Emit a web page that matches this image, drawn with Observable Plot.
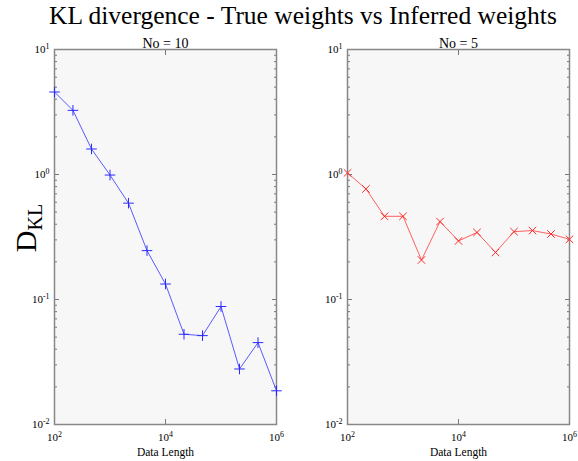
<!DOCTYPE html>
<html>
<head>
<meta charset="utf-8">
<script src="https://cdn.jsdelivr.net/npm/d3@7"></script>
<script src="https://cdn.jsdelivr.net/npm/@observablehq/plot@0.6"></script>
<style>
  body { margin: 0; background: #fff; }
  #chart { position: relative; width: 578px; height: 461px; font-family: "Liberation Serif", "DejaVu Serif", serif; color: #000; }
  #title { position: absolute; left: 14px; top: 1px; width: 578px; text-align: center; font-family: "Liberation Serif", "DejaVu Serif", serif; font-size: 25.5px; white-space: nowrap; }
  #ylabel { position: absolute; left: 28px; top: 228px; transform: translate(-50%, -50%) rotate(-90deg); font-family: "Liberation Serif", "DejaVu Serif", serif; font-size: 30px; white-space: nowrap; line-height: 1; }
  #ylabel sub { font-size: 20px; vertical-align: -0.3em; }
  .panel { position: absolute; top: 30px; }
</style>
</head>
<body>
<div id="chart">
  <div id="title">KL divergence - True weights vs Inferred weights</div>
  <div id="ylabel">D<sub>KL</sub></div>
  <div class="panel" id="p1" style="left:0px"></div>
  <div class="panel" id="p2" style="left:290px"></div>
</div>
<script>
// Data lengths (log-spaced sample sizes)
const dataLength = [100, 215, 464, 1000, 2154, 4642, 10000, 21544, 46416, 100000, 215443, 464159, 1000000];
// KL divergence between true and inferred weights
const klNo10 = [4.57, 3.26, 1.60, 0.99, 0.59, 0.246, 0.133, 0.0527, 0.0514, 0.0879, 0.0278, 0.0452, 0.0186];
const klNo5 = [1.03, 0.767, 0.463, 0.463, 0.207, 0.42, 0.294, 0.344, 0.238, 0.349, 0.356, 0.334, 0.303];

const panelTitles = ["No = 10", "No = 5"];
const xLabel = "Data Length";
const xTicks = [1e2, 1e4, 1e6];
const yTicks = [1e-2, 1e-1, 1e0, 1e1];
const yMinor = [1e-2, 1e-1, 1e0].flatMap(d => [2, 3, 4, 5, 6, 7, 8, 9].map(m => m * d));

const exponent = d => String(Math.round(Math.log10(d)));
const pow10 = d => "10^" + exponent(d);
const blank = () => "";
const serif = "'Liberation Serif', 'DejaVu Serif', serif";

// turn "10^k" tick labels into a base with a raised exponent
function raiseExponents(svg) {
  svg.querySelectorAll("text").forEach(t => {
    const s = t.textContent;
    const m = /^10\^(-?\d+)$/.exec(s);
    if (!m) return;
    t.textContent = "10";
    const sup = document.createElementNS("http://www.w3.org/2000/svg", "tspan");
    sup.setAttribute("dy", "-0.55em");
    sup.setAttribute("font-size", "0.72em");
    sup.textContent = m[1];
    t.appendChild(sup);
  });
  return svg;
}

function panel(values, lineColor, markColor, symbol, title, ml, mr) {
  const rows = dataLength.map((x, i) => ({x, y: values[i]}));
  const tickStroke = "#777";
  const svg = Plot.plot({
    width: ml + 222 + mr,
    height: 431,
    marginLeft: ml,
    marginRight: mr,
    marginTop: 19,
    marginBottom: 37,
    x: {type: "log", domain: [1e2, 1e6]},
    y: {type: "log", domain: [1e-2, 1e1]},
    style: {fontFamily: serif, fontSize: "11px", color: "#000", background: "transparent", overflow: "visible"},
    marks: [
      Plot.frame({fill: "#f7f7f7"}),
      // inward tick marks on all four sides
      Plot.axisY(yMinor, {anchor: "left", tickSize: -3, tickFormat: blank, label: null, stroke: tickStroke}),
      Plot.axisY(yMinor, {anchor: "right", tickSize: -3, tickFormat: blank, label: null, stroke: tickStroke}),
      Plot.axisY(yTicks, {anchor: "left", tickSize: -5, tickFormat: blank, label: null, stroke: tickStroke}),
      Plot.axisY(yTicks, {anchor: "right", tickSize: -5, tickFormat: blank, label: null, stroke: tickStroke}),
      Plot.axisX(xTicks, {anchor: "bottom", tickSize: -5, tickFormat: blank, label: null, stroke: tickStroke}),
      Plot.axisX(xTicks, {anchor: "top", tickSize: -5, tickFormat: blank, label: null, stroke: tickStroke}),
      // tick labels
      Plot.axisY(yTicks, {anchor: "left", tickSize: 0, tickPadding: 5, tickFormat: pow10, label: null, fontSize: 11}),
      Plot.axisX(xTicks, {anchor: "bottom", tickSize: 0, tickPadding: 9, tickFormat: pow10, label: null, fontSize: 11}),
      Plot.frame({stroke: "#888", strokeWidth: 1.5}),
      Plot.line(rows, {x: "x", y: "y", stroke: lineColor, strokeWidth: 1}),
      Plot.dot(rows, {x: "x", y: "y", symbol: symbol, r: 3.5, stroke: markColor, strokeWidth: 1}),
      Plot.text([title], {frameAnchor: "top", lineAnchor: "bottom", dy: -2, fontSize: 14}),
      Plot.text([xLabel], {frameAnchor: "bottom", lineAnchor: "middle", dy: 28, fontSize: 11.5})
    ]
  });
  return raiseExponents(svg);
}

document.getElementById("p1").append(panel(klNo10, "#5a5aff", "#2a2aff", "plus", panelTitles[0], 54, 14));
document.getElementById("p2").append(panel(klNo5, "#ff6060", "#ff2a2a", "times", panelTitles[1], 57, 9));
</script>
</body>
</html>
